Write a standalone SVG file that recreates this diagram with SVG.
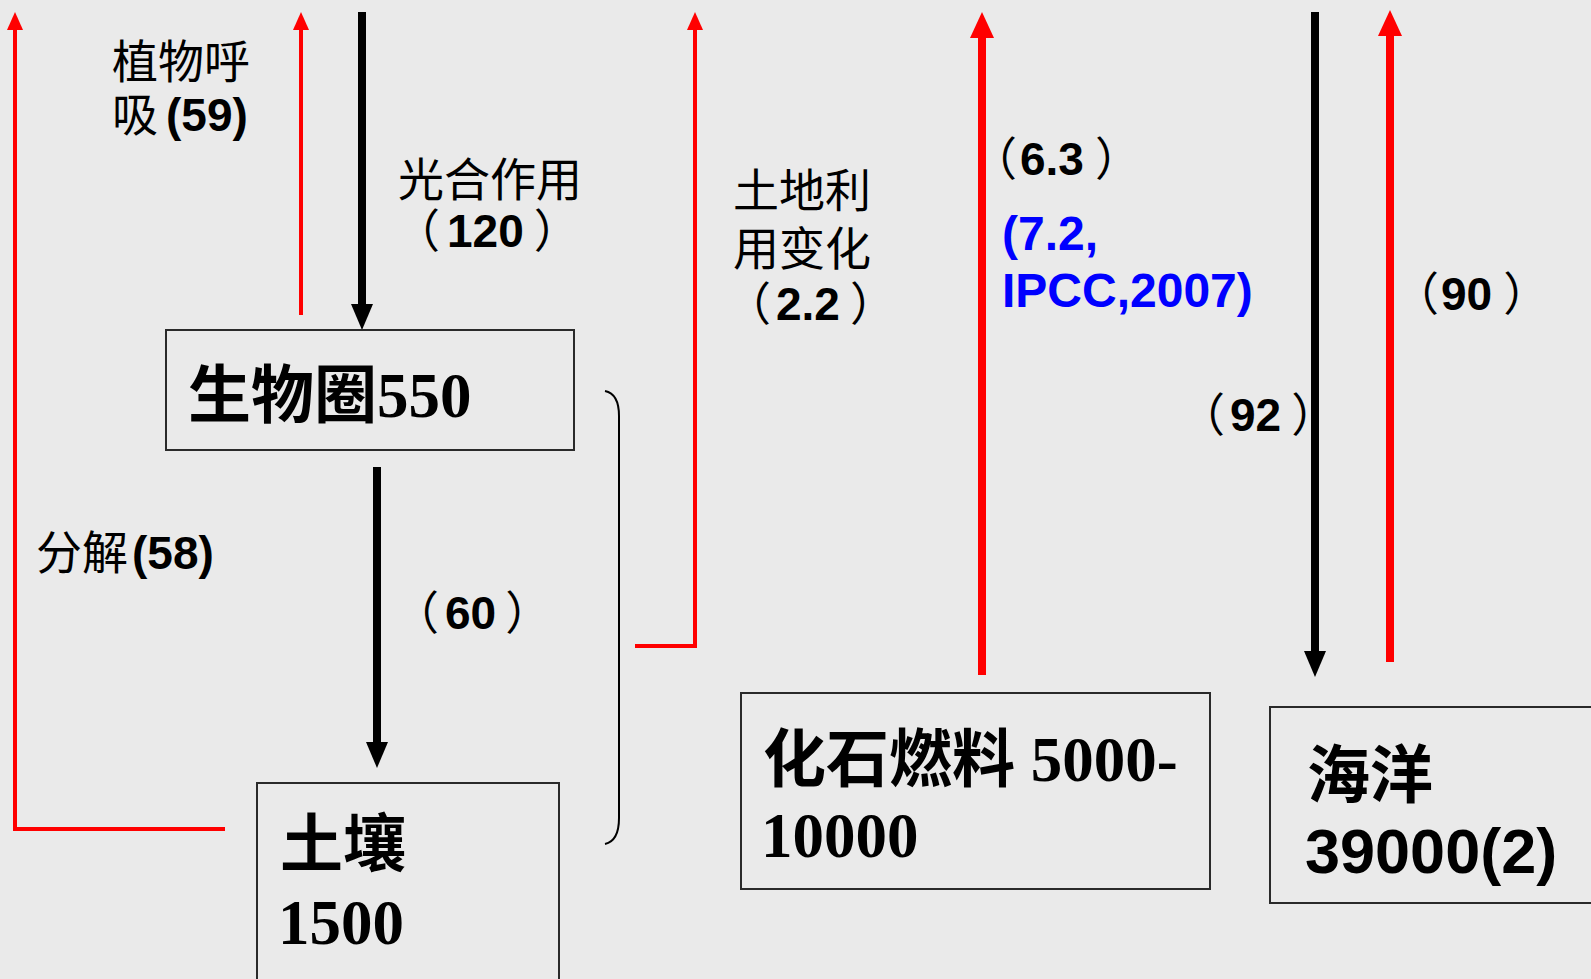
<svg xmlns="http://www.w3.org/2000/svg" width="1591" height="979" viewBox="0 0 1591 979">
<defs>
<style>
.bg{fill:#EAEAEA}
.box{fill:none;stroke:#2a2a2a;stroke-width:2}
.red{fill:none;stroke:#FF0000;stroke-width:4}
.redT{fill:none;stroke:#FF0000;stroke-width:8}
.blk{fill:none;stroke:#000;stroke-width:8}
.lbl{font-family:"Noto Sans CJK SC","Liberation Sans",sans-serif;font-size:46px;fill:#000}
.n{font-family:"Liberation Sans","Noto Sans CJK SC",sans-serif;font-weight:bold}
.blue{font-family:"Liberation Sans",sans-serif;font-weight:bold;font-size:48px;fill:#0000FF}
.ns{font-family:"Liberation Serif","Noto Sans CJK SC",serif;font-weight:bold;font-size:63px;fill:#000}
.nsa{font-family:"Liberation Sans","Noto Sans CJK SC",sans-serif;font-weight:bold;font-size:63px;fill:#000}
</style>
<marker id="hRed" markerUnits="userSpaceOnUse" markerWidth="18" markerHeight="16" refX="0" refY="8" orient="auto"><path d="M0,0 L18,8 L0,16 Z" fill="#FF0000"/></marker>
<marker id="hRedT" markerUnits="userSpaceOnUse" markerWidth="26" markerHeight="24" refX="0" refY="12" orient="auto"><path d="M0,0 L26,12 L0,24 Z" fill="#FF0000"/></marker>
<marker id="hBlk" markerUnits="userSpaceOnUse" markerWidth="26" markerHeight="22" refX="0" refY="11" orient="auto"><path d="M0,0 L26,11 L0,22 Z" fill="#000"/></marker>
</defs>
<rect class="bg" x="0" y="0" width="1591" height="979"/>

<g id="connectors">
<path class="red" d="M225,829 H15 V30" marker-end="url(#hRed)"/>
<path class="red" d="M301,315 V30" marker-end="url(#hRed)"/>
<path class="blk" d="M362,12 V304" marker-end="url(#hBlk)"/>
<path class="blk" d="M377,467 V742" marker-end="url(#hBlk)"/>
<path class="red" d="M635,646 H695 V30" marker-end="url(#hRed)"/>
<path class="redT" d="M982,675 V38" marker-end="url(#hRedT)"/>
<path class="blk" d="M1315,12 V651" marker-end="url(#hBlk)"/>
<path class="redT" d="M1390,662 V36" marker-end="url(#hRedT)"/>
<path d="M605,391 C615,393 619,401 619,416 V818 C619,833 614,842 605,844" fill="none" stroke="#000" stroke-width="2"/>
</g>

<g id="labels">
<text class="lbl" x="112" y="78">植物呼</text>
<text class="lbl" x="112" y="131">吸<tspan class="n" dx="8">(59)</tspan></text>
<text class="lbl" x="398" y="196">光合作用</text>
<text class="lbl" x="394" y="247">（<tspan class="n" dx="7">120</tspan><tspan dx="10">）</tspan></text>
<text class="lbl" x="733" y="207">土地利</text>
<text class="lbl" x="733" y="265">用变化</text>
<text class="lbl" x="725" y="320">（<tspan class="n" dx="5">2.2</tspan><tspan dx="10">）</tspan></text>
<text class="lbl" x="971" y="175">（<tspan class="n" dx="3">6.3</tspan><tspan dx="11">）</tspan></text>
<text class="blue" x="1002" y="250">(7.2,</text>
<text class="blue" x="1002" y="307">IPCC,2007)</text>
<text class="lbl" x="1393" y="310">（<tspan class="n" dx="2">90</tspan><tspan dx="11">）</tspan></text>
<text class="lbl" x="1179" y="431">（<tspan class="n" dx="5">92</tspan><tspan dx="10">）</tspan></text>
<text class="lbl" x="36" y="569">分解<tspan class="n" dx="4">(58)</tspan></text>
<text class="lbl" x="393" y="629">（<tspan class="n" dx="6">60</tspan><tspan dx="9">）</tspan></text>
</g>

<g id="node-biosphere">
<rect class="box" x="166" y="330" width="408" height="120"/>
<text class="ns" x="188" y="417">生物圈550</text>
</g>
<g id="node-soil">
<rect class="box" x="257" y="783" width="302" height="230"/>
<text class="ns" x="280" y="866">土壤</text>
<text class="ns" x="278" y="944">1500</text>
</g>
<g id="node-fossil">
<rect class="box" x="741" y="693" width="469" height="196"/>
<text class="ns" x="763" y="781">化石燃料 5000-</text>
<text class="ns" x="761" y="857">10000</text>
</g>
<g id="node-ocean">
<rect class="box" x="1270" y="707" width="340" height="196"/>
<text class="nsa" x="1307" y="797">海洋</text>
<text class="nsa" x="1305" y="873">39000(2)</text>
</g>
</svg>
